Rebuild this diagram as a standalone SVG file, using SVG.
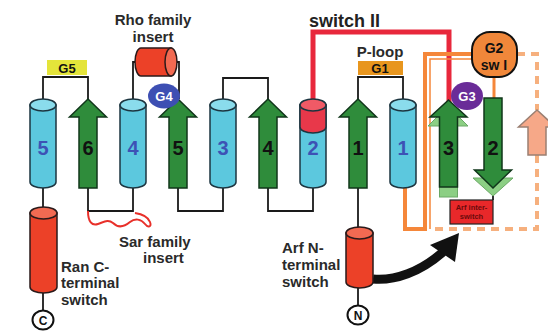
<svg xmlns="http://www.w3.org/2000/svg" width="548" height="332" viewBox="0 0 548 332">
<defs>
<style>
text{font-family:"Liberation Sans",Arial,sans-serif;font-weight:bold}
.lbl{font-size:15px;fill:#2a2a2a}
.num{font-size:20px;text-anchor:middle}
.hn{fill:#3d52b5}
.sn{fill:#111}
.hb{fill:#5cc8de;stroke:#1c3540;stroke-width:1.5}
.ht{fill:#8adcec;stroke:#1c3540;stroke-width:1.5}
.st{fill:#2f8c3b;stroke:#10361a;stroke-width:1.5;stroke-linejoin:miter}
.ghostg{fill:#8ccf84;stroke:#6aa866;stroke-width:1}
.cr{fill:#ec4128;stroke:#2a1a1a;stroke-width:1.5}
.crt{fill:#f26a52;stroke:#2a1a1a;stroke-width:1.5}
.conn{fill:none;stroke:#1a1a1a;stroke-width:1.8}
.gl{font-size:13px;text-anchor:middle}
.term{fill:#fff;stroke:#111;stroke-width:2}
</style>
</defs>
<rect width="548" height="332" fill="#fff"/>

<g id="connectors">
<path class="conn" d="M43,105 V77 H88 V99"/>
<path class="conn" d="M88,188 V211 H133 V188"/>
<path class="conn" d="M133,105 V62 H136"/>
<path class="conn" d="M176,62 H179 V99"/>
<path class="conn" d="M178,188 V211 H223 V188"/>
<path class="conn" d="M223,105 V78 H268 V99"/>
<path class="conn" d="M268,188 V211 H313 V188"/>
<path class="conn" d="M358,99 V77 H403 V105"/>
<path class="conn" d="M358,188 V233"/>
<path class="conn" d="M358,288 V306"/>
<path class="conn" d="M43,188 V213"/>
<path class="conn" d="M43,293 V310"/>
<path class="conn" d="M493,190 V200"/>
<path d="M313,105 V32 H449 V102" fill="none" stroke="#e8283c" stroke-width="5"/>
<path d="M405,186 V229 H425 V54 H474" fill="none" stroke="#f5873a" stroke-width="4"/>
<path d="M430,229 V59 H474" fill="none" stroke="#f5873a" stroke-width="1.5"/>
<path d="M494,76 V104" fill="none" stroke="#f5873a" stroke-width="3"/>
<path d="M517,54 H537 V110 M537,155 V229 H430" fill="none" stroke="#f6b07e" stroke-width="4" stroke-dasharray="8 6"/>
<path d="M88,211 C88,222 92,226 98,224 C104,222 108,219 113,223 C118,228 124,227 130,222 C135,218 141,219 145,224 C148,228 152,227 150,222 C148,217 142,214 135,213" fill="none" stroke="#e8302a" stroke-width="2"/>
<path d="M373,279 C395,281 420,272 443,252" fill="none" stroke="#111" stroke-width="9"/>
<polygon points="459,233 430,245 455,262" fill="#111"/>
</g>

<g id="helix5">
<path class="hb" d="M30,105 V182 A13,6 0 0 0 56,182 V105 Z"/>
<ellipse class="ht" cx="43" cy="105" rx="13" ry="6"/>
<text class="num hn" x="43" y="155">5</text>
</g>
<g id="strand6">
<polygon class="st" points="88,99 106.5,117 97,117 97,188 79,188 79,117 69.5,117"/>
<text class="num sn" x="88" y="155">6</text>
</g>
<g id="helix4">
<path class="hb" d="M120,105 V182 A13,6 0 0 0 146,182 V105 Z"/>
<ellipse class="ht" cx="133" cy="105" rx="13" ry="6"/>
<text class="num hn" x="133" y="155">4</text>
</g>
<g id="strand5">
<polygon class="st" points="178,99 196.5,117 187,117 187,188 169,188 169,117 159.5,117"/>
<text class="num sn" x="178" y="155">5</text>
</g>
<g id="helix3">
<path class="hb" d="M210,105 V182 A13,6 0 0 0 236,182 V105 Z"/>
<ellipse class="ht" cx="223" cy="105" rx="13" ry="6"/>
<text class="num hn" x="223" y="155">3</text>
</g>
<g id="strand4">
<polygon class="st" points="268,99 286.5,117 277,117 277,188 259,188 259,117 249.5,117"/>
<text class="num sn" x="268" y="155">4</text>
</g>
<g id="helix2">
<path class="hb" d="M300,105 V182 A13,6 0 0 0 326,182 V105 Z"/>
<path d="M300,105 V127 A13,6 0 0 0 326,127 V105 Z" fill="#e8384a" stroke="#1c3540" stroke-width="1.5"/>
<ellipse cx="313" cy="105" rx="13" ry="6" fill="#f05a66" stroke="#1c3540" stroke-width="1.5"/>
<text class="num hn" x="313" y="155">2</text>
</g>
<g id="strand1">
<polygon class="st" points="358,99 376.5,117 367,117 367,188 349,188 349,117 339.5,117"/>
<text class="num sn" x="358" y="155">1</text>
</g>
<g id="helix1">
<path class="hb" d="M390,105 V182 A13,6 0 0 0 416,182 V105 Z"/>
<ellipse class="ht" cx="403" cy="105" rx="13" ry="6"/>
<text class="num hn" x="403" y="155">1</text>
</g>
<g id="strand3">
<polygon class="ghostg" points="448,106 468,126 428,126"/>
<rect class="ghostg" x="439.5" y="186" width="18" height="11"/>
<polygon class="st" points="448.5,100 467,117 457.5,117 457.5,187 439.5,187 439.5,117 430,117"/>
<text class="num sn" x="448.5" y="155">3</text>
</g>
<g id="strand2">
<polygon class="ghostg" points="473,178 513,178 493,196"/>
<polygon class="st" points="484,98 502,98 502,170 511.5,170 493,188 474.5,170 484,170"/>
<text class="num sn" x="493" y="155">2</text>
</g>
<g id="ghost-strand">
<polygon points="537,110 555.5,127 546,127 546,155 528,155 528,127 518.5,127" fill="#f6a888" stroke="#9a7f72" stroke-width="1.5"/>
</g>

<g id="G5">
<rect x="47" y="60" width="40" height="15" fill="#e4e43a"/>
<text class="gl" x="67" y="73" fill="#111">G5</text>
</g>
<g id="rho-insert">
<path class="cr" d="M171,48 H141 A6,14 0 0 0 141,76 H171 Z"/>
<ellipse class="crt" cx="171" cy="62" rx="6" ry="14"/>
<text class="lbl" x="153" y="25" text-anchor="middle">Rho family</text>
<text class="lbl" x="153" y="42" text-anchor="middle">insert</text>
</g>
<g id="G4">
<ellipse cx="164" cy="96" rx="16" ry="12.5" fill="#3d4fb3"/>
<text class="gl" x="164" y="101" fill="#fff">G4</text>
</g>
<g id="switchII">
<text x="309" y="27" style="font-size:18px;fill:#222">switch II</text>
</g>
<g id="G1">
<text class="lbl" x="380" y="57" text-anchor="middle">P-loop</text>
<rect x="358" y="61" width="45" height="14" fill="#e8961e"/>
<text class="gl" x="380" y="73" fill="#111">G1</text>
</g>
<g id="G3">
<ellipse cx="467" cy="96" rx="16" ry="14" fill="#6a2c98"/>
<text class="gl" x="467" y="101" fill="#fff">G3</text>
</g>
<g id="G2">
<rect x="472" y="32" width="45" height="45" rx="18" fill="#f0873a" stroke="#111" stroke-width="2"/>
<text x="494" y="53" text-anchor="middle" style="font-size:14px;fill:#111">G2</text>
<text x="494" y="70" text-anchor="middle" style="font-size:14px;fill:#111">sw I</text>
</g>
<g id="arf-interswitch">
<rect x="450" y="200" width="43" height="24" fill="#e8282a" stroke="#222" stroke-width="1.2"/>
<text x="471.5" y="210" text-anchor="middle" style="font-size:7.5px;fill:#6b0a0a">Arf inter-</text>
<text x="471.5" y="219" text-anchor="middle" style="font-size:7.5px;fill:#6b0a0a">switch</text>
</g>
<g id="sar-insert">
<text class="lbl" x="119" y="247">Sar family</text>
<text class="lbl" x="143" y="263">insert</text>
</g>
<g id="ran-switch">
<path class="cr" d="M30,213 V287 A13.5,6 0 0 0 57,287 V213 Z"/>
<ellipse class="crt" cx="43.5" cy="213" rx="13.5" ry="6"/>
<text class="lbl" x="61" y="272">Ran C-</text>
<text class="lbl" x="61" y="288">terminal</text>
<text class="lbl" x="61" y="305">switch</text>
</g>
<g id="C-term">
<ellipse class="term" cx="43" cy="320" rx="10.5" ry="9.5"/>
<text x="43" y="324.5" text-anchor="middle" style="font-size:12px;fill:#111">C</text>
</g>
<g id="arf-switch">
<path class="cr" d="M346,233 V282 A13.5,6 0 0 0 373,282 V233 Z"/>
<ellipse class="crt" cx="359.5" cy="233" rx="13.5" ry="6"/>
<text class="lbl" x="282" y="253">Arf N-</text>
<text class="lbl" x="282" y="270">terminal</text>
<text class="lbl" x="282" y="287">switch</text>
</g>
<g id="N-term">
<ellipse class="term" cx="358" cy="315" rx="10.5" ry="9.5"/>
<text x="358" y="319.5" text-anchor="middle" style="font-size:12px;fill:#111">N</text>
</g>
</svg>
